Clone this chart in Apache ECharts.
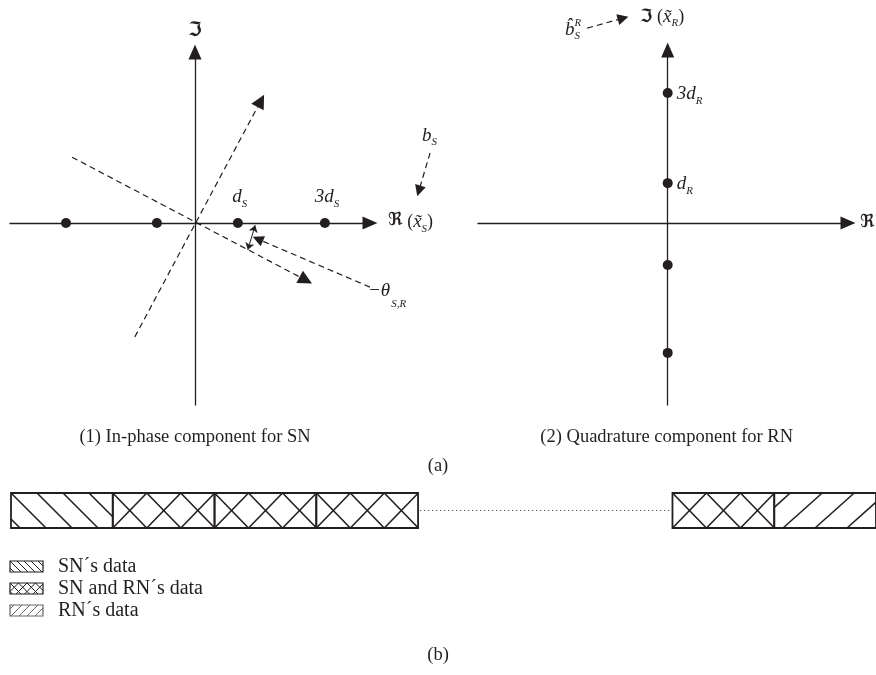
<!DOCTYPE html>
<html>
<head>
<meta charset="utf-8">
<script src="https://cdn.jsdelivr.net/npm/echarts@6/dist/echarts.min.js"></script>
<style>
  html, body { margin: 0; padding: 0; background: #fff; }
  #main { width: 876px; height: 675px; }
</style>
</head>
<body>
<div id="main"></div>
<script>
// (1) in-phase constellation of SN, in units of the point spacing
const snPoints = [-2.98, -0.88, 0.99, 3.0];
const snTags = ['', '', 'd', '3d'];
// (2) quadrature constellation of RN
const rnPoints = [3.0, 0.92, -0.97, -3.0];
const rnTags = ['3d', 'd', '', ''];
// dashed rotated axes and pointers, same units as the points
const rotImagAxis = [[-1.39, -2.63], [1.52, 2.82]];
const rotRealAxis = [[-2.84, 1.52], [2.56, -1.32]];
const thetaPointer = [[4.04, -1.48], [1.45, -0.37]];
const bsPointer = [[5.43, 1.62], [5.17, 0.74]];
const thetaArc = [[1.39, -0.05], [1.22, -0.62]];
const bhatPointer = [[-1.86, 4.50], [-1.03, 4.73]];
// (b) frame slots
const slotKinds = ['SN', 'SNRN', 'SNRN', 'SNRN', 'gap', 'SNRN', 'RN'];
const slotWidths = [1, 1, 1, 1, 2.5, 1, 1];
const legendKinds = ['SN', 'SNRN', 'RN'];
const legendNames = ['SN´s data', 'SN and RN´s data', 'RN´s data'];
const captions = ['(1) In-phase component for SN', '(2) Quadrature component for RN'];

const ink = '#231f20';
const serif = "'Liberation Serif', 'DejaVu Serif', serif";
const frak = "'DejaVu Serif', 'DejaVu Sans', serif";
const kindList = ['SN', 'SNRN', 'RN', 'gap'];

// hatch patterns: dir 1 = "\", dir -1 = "/"
const bigHatch = {
  SN: [{ dir: 1, step: 26, slope: 1.0, phase: 0 }],
  SNRN: [{ dir: 1, step: 34, slope: 0.97, phase: 0 }, { dir: -1, step: 34, slope: 0.97, phase: 0 }],
  RN: [{ dir: -1, step: 32, slope: 1.12, phase: 16 }]
};
const smallHatch = {
  SN: [{ dir: 1, step: 7, slope: 1.0, phase: 0 }],
  SNRN: [{ dir: 1, step: 8.5, slope: 1.0, phase: 0 }, { dir: -1, step: 8.5, slope: 1.0, phase: 0 }],
  RN: [{ dir: -1, step: 8, slope: 1.0, phase: 4 }]
};

function hatchLines(x, y, w, h, specs, color, lw) {
  const out = [];
  specs.forEach(sp => {
    const span = sp.slope * h;
    const c0 = sp.phase - sp.step * Math.ceil((span + sp.step) / sp.step);
    for (let c = c0; c <= w + span + sp.step; c += sp.step) {
      let lo, hi;
      if (sp.dir > 0) { lo = -c / sp.slope; hi = (w - c) / sp.slope; }
      else { lo = (c - w) / sp.slope; hi = c / sp.slope; }
      const tA = Math.max(0, lo), tB = Math.min(h, hi);
      if (tB - tA < 0.5) continue;
      out.push({
        type: 'line',
        shape: {
          x1: x + c + sp.dir * sp.slope * tA, y1: y + tA,
          x2: x + c + sp.dir * sp.slope * tB, y2: y + tB
        },
        style: { stroke: color, lineWidth: lw }
      });
    }
  });
  return out;
}

// slot data [start, end, kindIndex]
let acc = 0;
const slotData = slotKinds.map((k, i) => {
  const s = acc; acc += slotWidths[i];
  return [s, acc, kindList.indexOf(k)];
});

function renderSlot(params, api) {
  const a = api.coord([api.value(0), 1]);
  const b = api.coord([api.value(1), 0]);
  const kind = kindList[api.value(2)];
  const x = a[0], y = a[1], w = b[0] - a[0], h = b[1] - a[1];
  if (kind === 'gap') {
    return {
      type: 'line',
      shape: { x1: x + 2, y1: y + h / 2, x2: x + w - 2, y2: y + h / 2 },
      style: { stroke: '#555', lineWidth: 1, lineDash: [1.2, 2.8] }
    };
  }
  const children = hatchLines(x, y, w, h, bigHatch[kind], ink, 1.6);
  children.push({ type: 'rect', shape: { x: x, y: y, width: w, height: h },
    style: { fill: 'none', stroke: ink, lineWidth: 1.8 } });
  return { type: 'group', children: children };
}

const axisBase = {
  type: 'value',
  axisLine: { onZero: true, symbol: ['none', 'triangle'], symbolSize: [13, 15],
    lineStyle: { color: ink, width: 1.3 } },
  axisTick: { show: false },
  axisLabel: { show: false },
  splitLine: { show: false }
};

const dashed = { type: [6, 4], color: ink, width: 1.2, opacity: 1, curveness: 0 };

const chart = echarts.init(document.getElementById('main'), null, { renderer: 'canvas' });

const option = {
  animation: false,
  backgroundColor: '#fff',
  grid: [
    { left: 10, top: 52, width: 360, height: 353 },
    { left: 478, top: 50, width: 370, height: 355 },
    { left: 11, top: 493, width: 867, height: 35 }
  ],
  xAxis: [
    Object.assign({}, axisBase, { gridIndex: 0, min: -4.273, max: 4.042 }),
    Object.assign({}, axisBase, { gridIndex: 1, min: -4.381, max: 4.164 }),
    { type: 'value', gridIndex: 2, min: 0, max: 8.5, show: false }
  ],
  yAxis: [
    Object.assign({}, axisBase, { gridIndex: 0, min: -4.203, max: 3.949 }),
    Object.assign({}, axisBase, { gridIndex: 1, min: -4.203, max: 3.995 }),
    { type: 'value', gridIndex: 2, min: 0, max: 1, show: false }
  ],
  series: [
    {
      type: 'lines', coordinateSystem: 'cartesian2d', xAxisIndex: 0, yAxisIndex: 0,
      clip: false, silent: true, symbol: ['none', 'triangle'], symbolSize: 14,
      lineStyle: dashed,
      data: [{ coords: rotImagAxis }, { coords: rotRealAxis }]
    },
    {
      type: 'lines', coordinateSystem: 'cartesian2d', xAxisIndex: 0, yAxisIndex: 0,
      clip: false, silent: true, symbol: ['none', 'triangle'], symbolSize: 11,
      lineStyle: dashed,
      data: [{ coords: thetaPointer }, { coords: bsPointer }]
    },
    {
      type: 'lines', coordinateSystem: 'cartesian2d', xAxisIndex: 0, yAxisIndex: 0,
      clip: false, silent: true, symbol: ['arrow', 'arrow'], symbolSize: 7,
      lineStyle: { type: 'solid', color: ink, width: 1, opacity: 1, curveness: 0 },
      data: [{ coords: thetaArc }]
    },
    {
      type: 'lines', coordinateSystem: 'cartesian2d', xAxisIndex: 1, yAxisIndex: 1,
      clip: false, silent: true, symbol: ['none', 'triangle'], symbolSize: 11,
      lineStyle: dashed,
      data: [{ coords: bhatPointer }]
    },
    {
      type: 'scatter', xAxisIndex: 0, yAxisIndex: 0, silent: true,
      symbolSize: 10, itemStyle: { color: ink, opacity: 1 },
      data: snPoints.map(v => [v, 0])
    },
    {
      type: 'scatter', xAxisIndex: 1, yAxisIndex: 1, silent: true,
      symbolSize: 10, itemStyle: { color: ink, opacity: 1 },
      data: rnPoints.map(v => [0, v])
    },
    {
      type: 'custom', xAxisIndex: 2, yAxisIndex: 2, silent: true, clip: false,
      encode: { x: [0, 1] },
      renderItem: renderSlot,
      data: slotData
    }
  ]
};
chart.setOption(option);

// ---- text annotations
const meas = document.createElement('canvas').getContext('2d');
function fontOf(p) {
  return (p.it ? 'italic ' : '') + (p.b ? 'bold ' : '') + p.s + 'px ' + (p.f || serif);
}
function textW(t, font) { meas.font = font; return meas.measureText(t).width; }

function mathRun(x, y, parts, center) {
  let total = 0;
  parts.forEach(p => { if (!p.stack) total += textW(p.t, fontOf(p)); });
  let cx = center ? x - total / 2 : x;
  let lastStart = cx;
  const els = [];
  parts.forEach(p => {
    const px = p.stack ? lastStart : cx;
    els.push({
      type: 'text', x: px + (p.dx || 0), y: y + (p.dy || 0), silent: true,
      style: { text: p.t, font: fontOf(p), fill: ink, align: 'left', verticalAlign: 'middle' }
    });
    if (!p.stack) { lastStart = cx; cx += textW(p.t, fontOf(p)); }
  });
  return els;
}

function plain(x, y, t, size, align) {
  return {
    type: 'text', x: x, y: y, silent: true,
    style: { text: t, font: size + 'px ' + serif, fill: ink, align: align || 'center', verticalAlign: 'middle' }
  };
}

let g = [];
const o1 = chart.convertToPixel({ gridIndex: 0 }, [0, 0]);
const o2 = chart.convertToPixel({ gridIndex: 1 }, [0, 0]);

snPoints.forEach((v, i) => {
  if (!snTags[i]) return;
  const p = chart.convertToPixel({ gridIndex: 0 }, [v, 0]);
  g = g.concat(mathRun(p[0] + 2, p[1] - 26, [
    { t: snTags[i], s: 19, it: true },
    { t: 'S', s: 11, it: true, dy: 7 }
  ], true));
});
rnPoints.forEach((v, i) => {
  if (!rnTags[i]) return;
  const p = chart.convertToPixel({ gridIndex: 1 }, [0, v]);
  g = g.concat(mathRun(p[0] + 9, p[1] + 1, [
    { t: rnTags[i], s: 19, it: true },
    { t: 'R', s: 11, it: true, dy: 7 }
  ], false));
});

// axis titles, panel (1)
g.push({ type: 'text', x: o1[0], y: 31, silent: true,
  style: { text: 'ℑ', font: 'bold 20px ' + frak, fill: ink, align: 'center', verticalAlign: 'middle' } });
g = g.concat(mathRun(388, 222, [
  { t: 'ℜ', s: 18, b: true, f: frak, dy: -2 },
  { t: ' (', s: 18 },
  { t: 'x̃', s: 19, it: true },
  { t: 'S', s: 11, it: true, dy: 7 },
  { t: ')', s: 18 }
]));
g = g.concat(mathRun(368, 291, [
  { t: '−θ', s: 19, it: true },
  { t: 'S,R', s: 11, it: true, dy: 13, dx: 1 }
]));
g = g.concat(mathRun(422, 136, [
  { t: 'b', s: 19, it: true },
  { t: 'S', s: 11, it: true, dy: 6 }
]));

// axis titles, panel (2)
g = g.concat(mathRun(640, 17, [
  { t: 'ℑ', s: 18, b: true, f: frak },
  { t: ' (', s: 18 },
  { t: 'x̃', s: 19, it: true },
  { t: 'R', s: 11, it: true, dy: 6 },
  { t: ')', s: 18 }
]));
g = g.concat(mathRun(565, 30, [
  { t: 'b̂', s: 19, it: true },
  { t: 'R', s: 11, it: true, dy: -7 },
  { t: 'S', s: 11, it: true, dy: 6, stack: true }
]));
g.push({ type: 'text', x: 860, y: o2[1] - 1, silent: true,
  style: { text: 'ℜ', font: 'bold 18px ' + frak, fill: ink, align: 'left', verticalAlign: 'middle' } });

// captions
g.push(plain(o1[0], 437, captions[0], 18.5));
g.push(plain(o2[0] - 1, 437, captions[1], 18.5));
g.push(plain(438, 466, '(a)', 18.5));
g.push(plain(438, 655, '(b)', 18.5));

// legend for (b)
const legTop = [561, 583, 605];
legendKinds.forEach((k, i) => {
  const col = k === 'RN' ? '#666' : ink;
  const kids = hatchLines(10, legTop[i], 33, 11, smallHatch[k], col, 1);
  kids.push({ type: 'rect', shape: { x: 10, y: legTop[i], width: 33, height: 11 },
    style: { fill: 'none', stroke: col, lineWidth: 1.2 } });
  g.push({ type: 'group', silent: true, children: kids });
  g.push(plain(58, legTop[i] + 5.5, legendNames[i], 20, 'left'));
});

chart.setOption({ graphic: { elements: g } });
</script>
</body>
</html>
